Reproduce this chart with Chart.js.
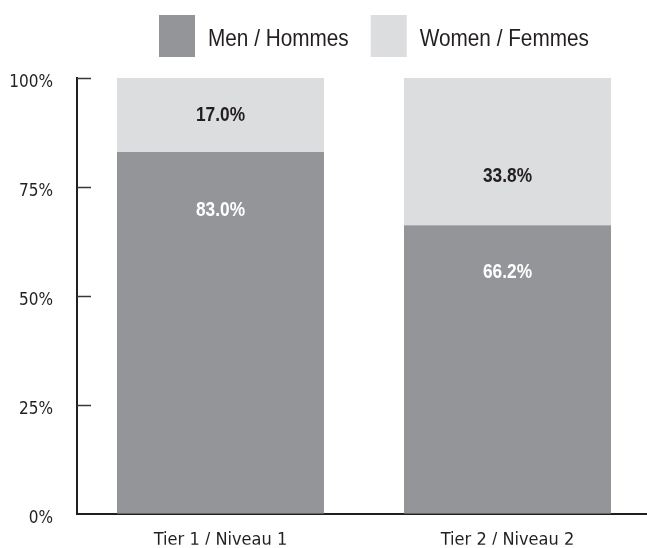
<!DOCTYPE html>
<html>
<head>
<meta charset="utf-8">
<script src="https://cdn.jsdelivr.net/npm/chart.js@4.4.1/dist/chart.umd.min.js"></script>
<style>
  html, body { margin: 0; padding: 0; background: #ffffff; overflow: hidden; }
  #wrap { width: 651px; height: 548px; }
</style>
</head>
<body>
<div id="wrap"><canvas id="chart" width="651" height="548"></canvas></div>
<script>
// ---- data ----
const categories = ['Tier 1 / Niveau 1', 'Tier 2 / Niveau 2'];
const seriesNames = ['Men / Hommes', 'Women / Femmes'];
const menShare = [83.0, 66.2];
const womenShare = [17.0, 33.8];
const yTicks = [0, 25, 50, 75, 100];

// ---- styling ----
const MEN_COLOR = '#939598';
const WOMEN_COLOR = '#dcdddf';
const INK = '#231f20';
const AXIS_FONT = "'DejaVu Sans Condensed', 'Liberation Sans', sans-serif";
const LABEL_FONT = "'Liberation Sans', Arial, sans-serif";
const NARROW_SCALE = 0.865; // horizontal squeeze giving a condensed face

// value labels sit a fixed distance from the men/women boundary (px)
const menLabelDrop = [58, 47];
const womenLabelRise = [37, 49];

// draw text squeezed horizontally around its anchor
function narrowText(ctx, text, x, y, align) {
  ctx.save();
  ctx.translate(x, y);
  ctx.scale(NARROW_SCALE, 1);
  ctx.textAlign = align;
  ctx.fillText(text, 0, 0);
  ctx.restore();
}

// Legend drawn across the top, above the plot
const legendPlugin = {
  id: 'topLegend',
  afterDraw(chart) {
    const ctx = chart.ctx;
    const colors = [MEN_COLOR, WOMEN_COLOR];
    let x = 159;
    ctx.save();
    ctx.font = '24px ' + LABEL_FONT;
    ctx.textBaseline = 'alphabetic';
    seriesNames.forEach((name, i) => {
      ctx.fillStyle = colors[i];
      ctx.fillRect(x, 15, 36, 42);
      ctx.fillStyle = INK;
      narrowText(ctx, name, x + 49, 46, 'left');
      x += 49 + ctx.measureText(name).width * NARROW_SCALE + 22;
    });
    ctx.restore();
  }
};

// Short inward tick marks on the value axis
const innerTicksPlugin = {
  id: 'innerTicks',
  afterDraw(chart) {
    const y = chart.scales.y;
    const left = chart.chartArea.left;
    const ctx = chart.ctx;
    ctx.save();
    ctx.strokeStyle = '#3a3738';
    ctx.lineWidth = 1.5;
    yTicks.forEach(v => {
      if (v === 0) return;
      const py = Math.round(y.getPixelForValue(v)) + 0.5;
      ctx.beginPath();
      ctx.moveTo(left, py);
      ctx.lineTo(left + 14, py);
      ctx.stroke();
    });
    ctx.restore();
  }
};

// Percentage labels inside each stacked segment
const valueLabelsPlugin = {
  id: 'valueLabels',
  afterDatasetsDraw(chart) {
    const ctx = chart.ctx;
    const y = chart.scales.y;
    const bars = chart.getDatasetMeta(0).data;
    ctx.save();
    ctx.font = 'bold 20px ' + LABEL_FONT;
    ctx.textBaseline = 'middle';
    bars.forEach((bar, i) => {
      const boundary = y.getPixelForValue(menShare[i]);
      ctx.fillStyle = INK;
      narrowText(ctx, womenShare[i].toFixed(1) + '%', bar.x, boundary - womenLabelRise[i], 'center');
      ctx.fillStyle = '#ffffff';
      narrowText(ctx, menShare[i].toFixed(1) + '%', bar.x, boundary + menLabelDrop[i], 'center');
    });
    ctx.restore();
  }
};

new Chart(document.getElementById('chart'), {
  type: 'bar',
  data: {
    labels: categories,
    datasets: [
      { label: seriesNames[0], data: menShare, backgroundColor: MEN_COLOR, borderWidth: 0 },
      { label: seriesNames[1], data: womenShare, backgroundColor: WOMEN_COLOR, borderWidth: 0 }
    ]
  },
  options: {
    responsive: false,
    animation: false,
    devicePixelRatio: 1,
    layout: { padding: { top: 78, left: 0, right: 0, bottom: 0 } },
    datasets: { bar: { categoryPercentage: 1, barPercentage: 0.7213 } },
    plugins: {
      legend: { display: false },
      tooltip: { enabled: false }
    },
    scales: {
      x: {
        stacked: true,
        grid: { display: false, drawTicks: false },
        border: { display: true, color: INK, width: 2 },
        ticks: { color: INK, font: { family: AXIS_FONT, size: 18 }, padding: 16, maxRotation: 0 },
        afterFit(scale) { scale.height = 31; }
      },
      y: {
        stacked: true,
        min: 0,
        max: 100,
        grid: { display: false, drawTicks: false },
        border: { display: true, color: INK, width: 2 },
        afterBuildTicks(scale) { scale.ticks = yTicks.map(v => ({ value: v })); },
        ticks: {
          color: INK,
          font: { family: AXIS_FONT, size: 17 },
          padding: 24,
          labelOffset: 5,
          callback: v => v + '%'
        },
        afterFit(scale) { scale.width = 77; }
      }
    }
  },
  plugins: [legendPlugin, innerTicksPlugin, valueLabelsPlugin]
});
</script>
</body>
</html>
